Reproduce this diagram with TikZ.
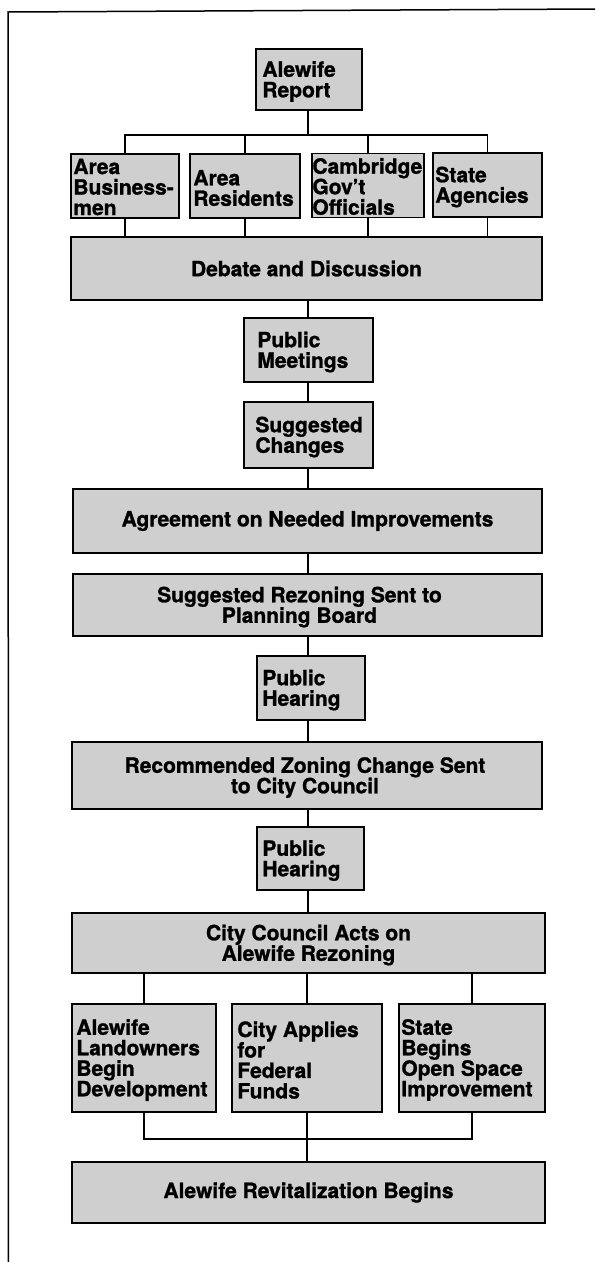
\documentclass[tikz,border=0pt]{standalone}
\usepackage{fontspec}
\setmainfont{TeX Gyre Heros}
\newfontfamily\heavy{texgyreheros-bold.otf}[FakeBold=1.2]
\definecolor{boxfill}{gray}{0.81}
\begin{document}
\begin{tikzpicture}[x=1pt,y=-1pt,
  fnt/.style={font=\heavy\fontsize{21}{20.5}\selectfont},
  box/.style={draw=black, line width=1.6pt, fill=boxfill, rectangle, inner sep=0pt, align=center, fnt},
  lbl/.style={anchor=west, inner sep=0pt, align=left, fnt},
  con/.style={line width=1.2pt},
  frame/.style={line width=1.5pt}]
\useasboundingbox (0,0) rectangle (595,1262);
\fill[white] (0,0) rectangle (595,1262);
% frame
\coordinate (fbl) at (8.5,1262);
\coordinate (ftl) at (8,12);
\coordinate (ftr) at (595,9);
\draw[frame] (fbl) -- (ftl) -- (ftr);
\coordinate (spine) at (308,0);
% boxes
\node[box, minimum width=106pt, minimum height=61pt] (rep) at (309,79.5) {};
\node[box, minimum width=108pt, minimum height=64pt] (b1) at (125,186) {};
\node[box, minimum width=110pt, minimum height=64pt] (b2) at (245,186) {};
\node[box, minimum width=112pt, minimum height=64pt] (b3) at (368,185.5) {};
\node[box, minimum width=109pt, minimum height=64pt] (b4) at (487.5,185) {};
\node[box, minimum width=471pt, minimum height=63pt] (deb) at (306.5,268.5) {\raisebox{-2pt}{Debate and Discussion}};
\node[box, minimum width=129pt, minimum height=64pt] (pm) at (308.5,350) {};
\node[box, minimum width=129pt, minimum height=66pt] (sc) at (308.5,435) {};
\node[box, minimum width=469pt, minimum height=64pt] (agr) at (307.5,521) {\raisebox{-2pt}{Agreement on Needed Improvements}};
\node[box, minimum width=469pt, minimum height=62pt] (srz) at (307.5,605) {};
\node[box, minimum width=108pt, minimum height=64pt] (ph1) at (311,688) {};
\node[box, minimum width=470pt, minimum height=67pt] (rzc) at (307,775.5) {};
\node[box, minimum width=107pt, minimum height=63pt] (ph2) at (310.5,858.5) {};
\node[box, minimum width=473pt, minimum height=60pt] (cc) at (308.5,943) {};
\node[box, minimum width=144pt, minimum height=108pt] (l1) at (144,1058) {};
\node[box, minimum width=150pt, minimum height=108pt] (l2) at (307,1058) {};
\node[box, minimum width=146pt, minimum height=108pt] (l3) at (472,1058) {};
\node[box, minimum width=473pt, minimum height=61pt] (rev) at (308.5,1192.5) {\raisebox{-2pt}{Alewife Revitalization Begins}};
% centred two-line texts
\node[fnt, inner sep=0pt, align=center, yshift=-2pt] (tsrz) at ([xshift=-8pt]srz.center) {Suggested Rezoning Sent to\\Planning Board};
\node[fnt, inner sep=0pt, align=center, yshift=-2pt] (trzc) at ([xshift=-2pt]rzc.center) {Recommended Zoning Change Sent\\to City Council};
\node[fnt, inner sep=0pt, align=center, yshift=-2pt] (tcc) at (cc.center) {City Council Acts on\\Alewife Rezoning};
% left-aligned texts
\node[lbl, yshift=-2pt] (trep) at ([xshift=7pt]rep.west) {Alewife\\Report};
\node[lbl, yshift=-1pt] (tb1) at ([xshift=3pt]b1.west) {Area\\Business-\\men};
\node[lbl, yshift=-2pt] (tb2) at ([xshift=4pt]b2.west) {Area\\Residents};
\node[lbl, yshift=-1pt] (tb3) at ([xshift=1pt]b3.west) {Cambridge\\Gov’t\\Officials};
\node[lbl, yshift=-2pt] (tb4) at ([xshift=3pt]b4.west) {State\\Agencies};
\node[lbl, yshift=-2pt] (tpm) at ([xshift=14pt]pm.west) {Public\\Meetings};
\node[lbl, yshift=-2pt] (tsc) at ([xshift=12pt]sc.west) {Suggested\\Changes};
\node[lbl, yshift=-2pt] (tph1) at ([xshift=6pt]ph1.west) {Public\\Hearing};
\node[lbl, yshift=-2pt] (tph2) at ([xshift=6pt]ph2.west) {Public\\Hearing};
\node[lbl, yshift=-2pt] (tl1) at ([xshift=5pt]l1.west) {Alewife\\Landowners\\Begin\\Development};
\node[lbl, yshift=-2pt] (tl2) at ([xshift=6pt]l2.west) {City Applies\\for\\Federal\\Funds};
\node[lbl, yshift=-2pt] (tl3) at ([xshift=3pt]l3.west) {State\\Begins\\Open Space\\Improvement};
% connectors
\coordinate (br) at (308,135);
\draw[con] (rep.south -| spine) -- (br);
\draw[con] (b1.north) |- (br) -| (b4.north);
\draw[con] (b2.north) -- (b2.north |- br);
\draw[con] (b3.north) -- (b3.north |- br);
\foreach \b in {b1,b2,b3,b4} {\draw[con] (\b.south) -- (\b.south |- deb.north);}
\draw[con] (deb.south -| spine) -- (pm.north -| spine);
\draw[con] (pm.south -| spine) -- (sc.north -| spine);
\draw[con] (sc.south -| spine) -- (agr.north -| spine);
\draw[con] (agr.south -| spine) -- (srz.north -| spine);
\draw[con] (srz.south -| spine) -- (ph1.north -| spine);
\draw[con] (ph1.south -| spine) -- (rzc.north -| spine);
\draw[con] (rzc.south -| spine) -- (ph2.north -| spine);
\draw[con] (ph2.south -| spine) -- (cc.north -| spine);
\draw[con] (l1.north) -- (l1.north |- cc.south);
\draw[con] (l2.north) -- (l2.north |- cc.south);
\draw[con] (l3.north) -- (l3.north |- cc.south);
\coordinate (jn) at (308,1139);
\draw[con] (l1.south) |- (jn) -| (l3.south);
\draw[con] (l2.south) -- (l2.south |- rev.north);
\end{tikzpicture}
\end{document}
